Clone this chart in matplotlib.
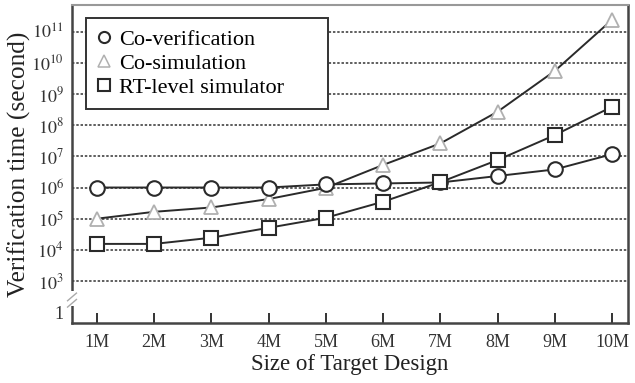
import matplotlib
matplotlib.use("Agg")
import matplotlib.pyplot as plt
import numpy as np
from matplotlib.lines import Line2D

plt.rcParams['font.family'] = ['Liberation Serif', 'DejaVu Serif']
plt.rcParams['mathtext.fontset'] = 'stix'

sizes = [1, 2, 3, 4, 5, 6, 7, 8, 9, 10]
size_labels = ['1M', '2M', '3M', '4M', '5M', '6M', '7M', '8M', '9M', '10M']
co_verification = [1.0e6, 1.0e6, 1.0e6, 1.0e6, 1.26e6, 1.35e6, 1.45e6, 2.34e6, 3.8e6, 1.17e7]
co_simulation = [1.0e5, 1.66e5, 2.29e5, 4.27e5, 9.8e5, 5.3e6, 2.6e7, 2.7e8, 5.5e9, 2.4e11]
rt_level = [1.55e4, 1.55e4, 2.45e4, 5.1e4, 1.07e5, 3.5e5, 1.48e6, 7.6e6, 4.8e7, 3.9e8]
ytick_vals = [1e2, 1e3, 1e4, 1e5, 1e6, 1e7, 1e8, 1e9, 1e10, 1e11]
ytick_labels = ['1'] + [r'$10^{%d}$' % k for k in range(3, 12)]

fig = plt.figure(figsize=(6.35, 3.83), dpi=100)
ax = fig.add_axes([72/635, 1-323/383, (628-72)/635, (323-5)/383])
ax.set_yscale('log')
ax.set_ylim(10**1.652, 10**11.857)
ax.set_xlim(0.563, 10.28)

# dotted gridlines at decades (not at broken "1")
for v in ytick_vals[1:]:
    ax.axhline(v, color='#333333', lw=1.1, ls=(0, (1.6, 1.2)), zorder=1)

line_c = '#2a2a2a'
ax.plot(sizes, co_verification, color=line_c, lw=1.4, marker='o', ms=10.5,
        mfc='white', mec='#2a2a2a', mew=1.5, zorder=4)
ax.plot(sizes, rt_level, color=line_c, lw=1.4, marker='s', ms=10,
        mfc='white', mec='#2a2a2a', mew=1.5, zorder=4)
ax.plot(sizes, co_simulation, color=line_c, lw=1.4, marker='^', ms=10.5,
        mfc='white', mec='#b0b0b0', mew=1.3, zorder=3)

ax.set_yticks(ytick_vals)
ax.set_yticklabels(ytick_labels)
ax.yaxis.set_minor_locator(matplotlib.ticker.NullLocator())
ax.tick_params(axis='y', length=0, pad=6, labelsize=13, colors='#333333')
ax.set_xticks(sizes)
ax.set_xticklabels(size_labels)
ax.tick_params(axis='x', direction='in', length=7, width=1.4, pad=8,
               labelsize=13, colors='#333333')

for s in ['left', 'bottom', 'right']:
    ax.spines[s].set_color('#444444')
    ax.spines[s].set_linewidth(1.8)
ax.spines['top'].set_color('#999999')
ax.spines['top'].set_linewidth(1.5)

ax.set_xlabel('Size of Target Design', fontsize=16.5, color='#222222', labelpad=2)
ax.set_ylabel('Verification time (second)', fontsize=18.3, color='#222222', labelpad=0)

# axis break marker
ax.add_patch(plt.Rectangle((-0.01, 0.055), 0.02, 0.045, transform=ax.transAxes,
                           facecolor='white', edgecolor='none', clip_on=False, zorder=10))
for dy in (0.062, 0.082):
    ax.plot([-0.008, 0.008], [dy - 0.012, dy + 0.012], transform=ax.transAxes,
            color='#aaaaaa', lw=1.0, clip_on=False, zorder=11)

# legend
handles = [
    Line2D([], [], ls='none', marker='o', ms=8, mfc='white', mec='#2a2a2a', mew=1.5),
    Line2D([], [], ls='none', marker='^', ms=8, mfc='white', mec='#b0b0b0', mew=1.1),
    Line2D([], [], ls='none', marker='s', ms=8, mfc='white', mec='#2a2a2a', mew=1.5),
]
x0 = (86 - 72) / 556
w = (328 - 86) / 556
y_top = 1 - (18 - 5) / 318
leg = ax.legend(handles, ['Co-verification', 'Co-simulation', 'RT-level simulator'],
                loc='upper left', bbox_to_anchor=(x0, y_top - 0.3, w, 0.3),
                mode='expand', fontsize=16, frameon=True, fancybox=False,
                borderpad=0.5, labelspacing=0.16, handlelength=0.6,
                handletextpad=0.4, borderaxespad=0)
leg.get_frame().set_edgecolor('#333333')
leg.get_frame().set_linewidth(1.4)
leg.get_frame().set_alpha(1)
leg.set_zorder(20)

fig.savefig('out.png', dpi=100)
